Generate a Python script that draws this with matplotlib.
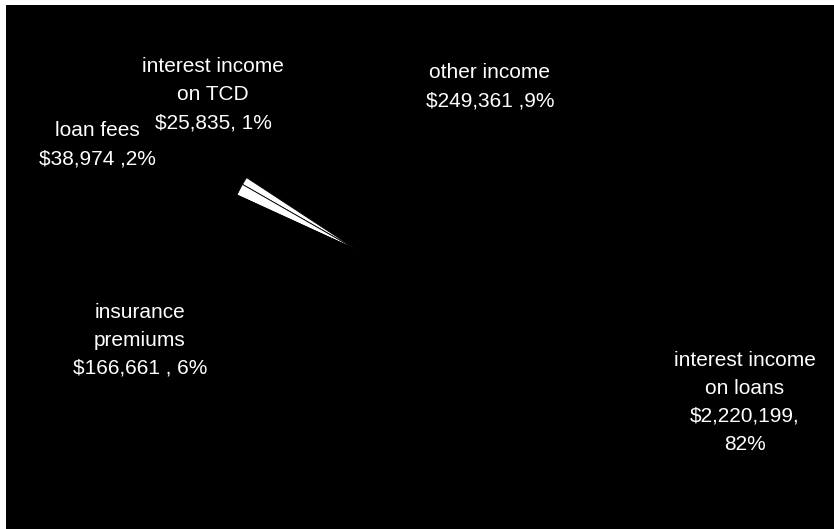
import matplotlib.pyplot as plt
from matplotlib.patches import Rectangle

plt.rcParams['font.family'] = ['Liberation Sans', 'DejaVu Sans']

# income sources, counter-clockwise from the big slice
categories = ['interest income on loans', 'other income', 'interest income on TCD',
              'loan fees', 'insurance premiums']
values = [2220199, 249361, 25835, 38974, 166661]
labels = ['interest income\non loans\n$2,220,199,\n82%',
          'other income\n$249,361 ,9%',
          'interest income\non TCD\n$25,835, 1%',
          'loan fees\n$38,974 ,2%',
          'insurance\npremiums\n$166,661 , 6%']
colors = ['black', 'black', 'white', 'white', 'black']

# label centres in pixel coords (x, y from top)
label_pos = [(745, 402), (490, 87), (213, 95), (97, 145), (140, 340)]

W, H = 834, 529
fig = plt.figure(figsize=(W / 100, H / 100), dpi=100)
fig.patch.set_facecolor('white')
ax = fig.add_axes([0, 0, 1, 1])

# black plot area, thin white margin at left and top
ax.add_patch(Rectangle((6, 0), W - 6, H - 5, facecolor='black', edgecolor='none', zorder=0))

ax.pie(values, colors=colors, startangle=177.6, counterclock=True,
       center=(357, H - 250), radius=132, frame=True,
       wedgeprops=dict(edgecolor='black', linewidth=0.6))
ax.set_xlim(0, W)
ax.set_ylim(0, H)
ax.set_aspect('equal')
ax.axis('off')

for lab, (x, y) in zip(labels, label_pos):
    ax.text(x, H - y, lab, color='white', fontsize=15, ha='center', va='center',
            linespacing=1.6)

fig.savefig('out.png', dpi=100, facecolor=fig.get_facecolor())
